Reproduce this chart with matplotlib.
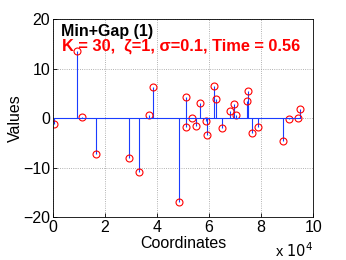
import numpy as np
import matplotlib
matplotlib.use("Agg")
import matplotlib.pyplot as plt

# positions (x 1e4) and values
coords = [0.03, 0.91, 1.12, 1.64, 2.91, 3.29, 3.71, 3.83, 4.86, 5.10,
          5.13, 5.36, 5.49, 5.65, 5.87, 5.93, 6.19, 6.26, 6.51, 6.79,
          6.94, 7.04, 7.44, 7.51, 7.65, 7.90, 8.85, 9.09, 9.41, 9.49]
values = [-1.15, 13.6, 0.3, -7.3, -8.1, -10.8, 0.6, 6.3, -16.9, -1.8,
          4.3, 0.05, -1.6, 3.0, -0.5, -3.4, 6.4, 3.8, -2.0, 1.5,
          2.9, 0.7, 3.5, 5.4, -3.0, -1.8, -4.6, -0.2, 0.07, 1.9]
xticks = [0, 2, 4, 6, 8, 10]
yticks = [-20, -10, 0, 10, 20]

plt.rcParams['font.family'] = ['Liberation Sans', 'DejaVu Sans']

fig = plt.figure(figsize=(3.46, 2.60), dpi=100)
ax = fig.add_axes([0.153, 0.165, 0.752, 0.762])

x = np.array(coords) * 1e4
markerline, stemlines, baseline = ax.stem(x, values, basefmt='b-')
plt.setp(stemlines, color='#1a3cff', linewidth=0.8)
plt.setp(markerline, marker='o', markersize=5, markerfacecolor='none',
         markeredgecolor='red', markeredgewidth=0.8)
plt.setp(baseline, color='#1a3cff', linewidth=0.8)

ax.set_xlim(0, 1e5)
ax.set_ylim(-20, 20)
ax.set_xticks([t * 1e4 for t in xticks])
ax.set_xticklabels([str(t) for t in xticks])
ax.set_yticks(yticks)
ax.set_yticklabels([str(t).replace('-', '\u2212') for t in yticks])
ax.tick_params(direction='in', labelsize=11.5, length=3, width=0.6, pad=2)
ax.grid(True, linestyle=':', color='#999999', linewidth=0.6)
for s in ax.spines.values():
    s.set_linewidth(0.6)

ax.set_xlabel('Coordinates', fontsize=11.5, labelpad=1)
ax.set_ylabel('Values', fontsize=11.5, labelpad=0)
fig.text(0.905, 0.0, r'x $10^4$', fontsize=10.5, ha='right', va='bottom')

ax.text(0.03, 0.975, 'Min+Gap (1)', transform=ax.transAxes, fontsize=11.5,
        fontweight='bold', color='black', va='top', ha='left')
ax.text(0.035, 0.9, 'K = 30,  \u03b6=1, \u03c3=0.1, Time = 0.56',
        transform=ax.transAxes, fontsize=11.8, fontweight='bold', color='red',
        va='top', ha='left', family=['Liberation Sans', 'DejaVu Sans'])

fig.savefig('out.png', dpi=100)
